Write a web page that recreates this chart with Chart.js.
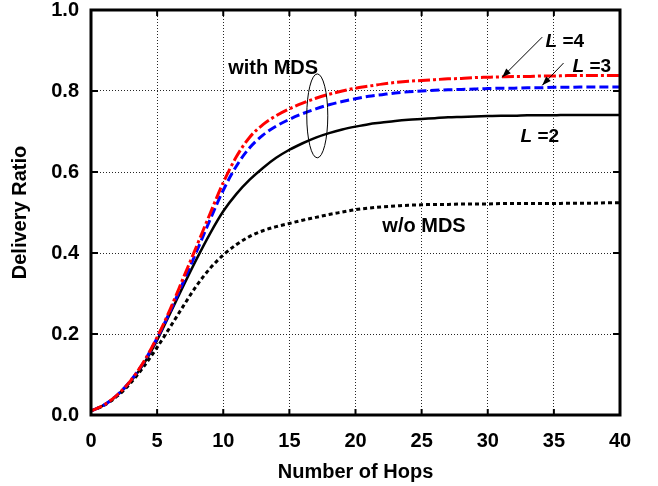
<!DOCTYPE html>
<html><head><meta charset="utf-8">
<script src="https://cdn.jsdelivr.net/npm/chart.js@4/dist/chart.umd.min.js"></script>
<style>html,body{margin:0;padding:0;background:#fff;}</style>
</head><body>
<canvas id="c" width="658" height="486"></canvas>
<script>
// ---- data ----
const hops = [0,1,2,3,4,5,6,7,8,9,10,11,12,13,14,15,16,17,18,19,20,21,22,23,24,25,26,27,28,29,30,31,32,33,34,35,36,37,38,39,40];
const ratioL4 = [0.010,0.025,0.050,0.085,0.132,0.192,0.262,0.340,0.418,0.497,0.574,0.638,0.686,0.717,0.739,0.756,0.770,0.782,0.792,0.800,0.807,0.812,0.817,0.821,0.824,0.826,0.828,0.830,0.831,0.833,0.834,0.835,0.836,0.836,0.837,0.837,0.838,0.838,0.838,0.838,0.838];
const ratioL3 = [0.010,0.025,0.050,0.085,0.131,0.190,0.257,0.330,0.405,0.482,0.555,0.615,0.660,0.691,0.713,0.730,0.744,0.756,0.766,0.774,0.781,0.787,0.791,0.795,0.798,0.800,0.802,0.803,0.804,0.805,0.806,0.807,0.807,0.808,0.808,0.809,0.809,0.810,0.810,0.810,0.810];
const ratioL2 = [0.010,0.025,0.049,0.083,0.127,0.185,0.252,0.320,0.386,0.448,0.503,0.546,0.581,0.610,0.635,0.655,0.671,0.685,0.696,0.705,0.712,0.718,0.722,0.726,0.729,0.731,0.733,0.735,0.736,0.737,0.738,0.739,0.739,0.740,0.740,0.740,0.741,0.741,0.741,0.741,0.741];
const ratioNoMDS = [0.010,0.024,0.047,0.079,0.120,0.167,0.218,0.270,0.320,0.362,0.395,0.421,0.441,0.455,0.465,0.473,0.481,0.488,0.495,0.501,0.507,0.511,0.514,0.516,0.518,0.519,0.520,0.520,0.521,0.521,0.521,0.522,0.522,0.522,0.522,0.522,0.523,0.523,0.523,0.524,0.524];
const xTickValues = [0,5,10,15,20,25,30,35,40];
const yTickValues = [0,0.2,0.4,0.6,0.8,1.0];
const xTitle = 'Number of Hops';
const yTitle = 'Delivery Ratio';

// ---- annotations (data units) ----
const FONT = "'Liberation Sans', Arial, Helvetica, sans-serif";
const noteTexts = [
  {parts:[{t:'L',italic:true},{t:' =4'}], x:34.37, y:0.9075, size:19},
  {parts:[{t:'L',italic:true},{t:' =3'}], x:36.41, y:0.846, size:19},
  {parts:[{t:'L',italic:true},{t:' =2'}], x:32.48, y:0.673, size:19},
  {parts:[{t:'with MDS'}], x:10.37, y:0.843, size:20},
  {parts:[{t:'w/o MDS'}], x:22.03, y:0.451, size:20}
];
const noteArrows = [
  {from:[34.12,0.933], to:[31.09,0.834]},
  {from:[35.73,0.869], to:[34.12,0.814]}
];
const noteEllipse = {x:17.11, y:0.7386, rx:0.795, ry:0.1036};

const pts = arr => hops.map((h,i)=>({x:h, y:arr[i]}));

const decorPlugin = {
  id:'decor',
  afterDatasetsDraw(chart){
    const {ctx, chartArea:a, scales:{x, y}} = chart;
    ctx.save();
    ctx.strokeStyle = '#000'; ctx.fillStyle = '#000';
    const line = (x1,y1,x2,y2)=>{ctx.beginPath();ctx.moveTo(x1,y1);ctx.lineTo(x2,y2);ctx.stroke();};
    // inner tick marks
    ctx.lineWidth = 2;
    xTickValues.forEach(v=>{const px=x.getPixelForValue(v); line(px,a.bottom,px,a.bottom-6); line(px,a.top,px,a.top+6);});
    yTickValues.forEach(v=>{const py=y.getPixelForValue(v); line(a.left,py,a.left+7,py); line(a.right,py,a.right-7,py);});
    // frame
    ctx.lineWidth = 3;
    ctx.strokeRect(a.left, a.top, a.right-a.left, a.bottom-a.top);
    // ellipse
    ctx.lineWidth = 1;
    const cx = x.getPixelForValue(noteEllipse.x), cy = y.getPixelForValue(noteEllipse.y);
    const rx = Math.abs(x.getPixelForValue(noteEllipse.x+noteEllipse.rx)-cx);
    const ry = Math.abs(y.getPixelForValue(noteEllipse.y+noteEllipse.ry)-cy);
    ctx.beginPath(); ctx.ellipse(cx,cy,rx,ry,0,0,Math.PI*2); ctx.stroke();
    // arrows
    noteArrows.forEach(ar=>{
      const x1=x.getPixelForValue(ar.from[0]), y1=y.getPixelForValue(ar.from[1]);
      const x2=x.getPixelForValue(ar.to[0]), y2=y.getPixelForValue(ar.to[1]);
      ctx.lineWidth = 1;
      line(x1,y1,x2,y2);
      const ang = Math.atan2(y2-y1,x2-x1), L=9, W=3.2;
      ctx.beginPath();
      ctx.moveTo(x2,y2);
      ctx.lineTo(x2-L*Math.cos(ang)+W*Math.sin(ang), y2-L*Math.sin(ang)-W*Math.cos(ang));
      ctx.lineTo(x2-L*Math.cos(ang)-W*Math.sin(ang), y2-L*Math.sin(ang)+W*Math.cos(ang));
      ctx.closePath(); ctx.fill();
    });
    // texts
    ctx.textBaseline = 'alphabetic'; ctx.textAlign = 'left';
    noteTexts.forEach(n=>{
      let px = x.getPixelForValue(n.x); const py = y.getPixelForValue(n.y);
      n.parts.forEach(p=>{
        ctx.font = (p.italic?'italic ':'') + 'bold ' + n.size + 'px ' + FONT;
        ctx.fillText(p.t, px, py);
        px += ctx.measureText(p.t).width;
      });
    });
    ctx.restore();
  }
};

const tickFont = {family:FONT, size:20, weight:'bold'};
new Chart(document.getElementById('c'), {
  type:'line',
  data:{
    datasets:[
      {label:'L=4', data:pts(ratioL4), borderColor:'#ff0000', borderWidth:3, borderDash:[12,3,3,3]},
      {label:'L=3', data:pts(ratioL3), borderColor:'#0000ff', borderWidth:3, borderDash:[9,4]},
      {label:'L=2', data:pts(ratioL2), borderColor:'#000000', borderWidth:2.5},
      {label:'w/o MDS', data:pts(ratioNoMDS), borderColor:'#000000', borderWidth:3, borderDash:[4,3]}
    ]
  },
  options:{
    responsive:false, animation:false, devicePixelRatio:1,
    layout:{padding:{top:10, right:38, left:0, bottom:0}},
    plugins:{legend:{display:false}, tooltip:{enabled:false}},
    elements:{point:{radius:0}, line:{tension:0.4, cubicInterpolationMode:'monotone', fill:false}},
    scales:{
      x:{
        type:'linear', min:0, max:40,
        afterBuildTicks:s=>{s.ticks = xTickValues.map(v=>({value:v}));},
        afterFit:s=>{s.height=71; s.paddingLeft=0; s.paddingRight=0;},
        ticks:{font:tickFont, color:'#000', padding:14, maxRotation:0, autoSkip:false},
        grid:{color:'rgba(0,0,0,0.85)', lineWidth:1, drawTicks:false},
        border:{display:false, dash:[1,2]},
        title:{display:true, text:xTitle, color:'#000', font:{family:FONT, size:20, weight:'bold'}, padding:{top:0, bottom:2}}
      },
      y:{
        type:'linear', min:0, max:1,
        afterBuildTicks:s=>{s.ticks = yTickValues.map(v=>({value:v}));},
        afterFit:s=>{s.width=91; s.paddingTop=0; s.paddingBottom=0;},
        ticks:{font:tickFont, color:'#000', padding:12, callback:v=>Number(v).toFixed(1)},
        grid:{color:'rgba(0,0,0,0.85)', lineWidth:1, drawTicks:false},
        border:{display:false, dash:[1,2]},
        title:{display:true, text:yTitle, color:'#000', font:{family:FONT, size:20, weight:'bold'}, padding:{top:8, bottom:0}}
      }
    }
  },
  plugins:[decorPlugin]
});
</script>
</body></html>
